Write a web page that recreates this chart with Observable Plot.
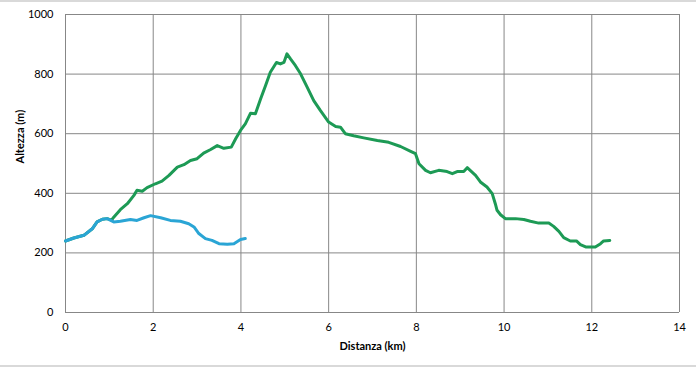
<!DOCTYPE html>
<html>
<head>
<meta charset="utf-8">
<script src="https://cdn.jsdelivr.net/npm/d3@7"></script>
<script src="https://cdn.jsdelivr.net/npm/@observablehq/plot@0.6"></script>
<style>
  html, body { margin: 0; padding: 0; background: #fff; }
  #chart { width: 696px; height: 367px; position: relative; box-sizing: border-box; }
  #frame { position: absolute; left: 0; top: 0; width: 696px; height: 367px; box-sizing: border-box;
           border-top: 2px solid #d9d9d9; border-bottom: 2px solid #d9d9d9; pointer-events: none; }
  svg { display: block; }
</style>
</head>
<body>
<div id="chart"><div id="frame"></div></div>
<script>
// X tick values (km) and Y tick values (m)
const xTicks = [0, 2, 4, 6, 8, 10, 12, 14];
const yTicks = [0, 200, 400, 600, 800, 1000];

// Blue profile: distance (km) and altitude (m)
const blueX = [0.00, 0.19, 0.42, 0.61, 0.72, 0.84, 0.95, 1.10, 1.25, 1.48, 1.63, 1.79, 1.94, 2.17, 2.39, 2.62, 2.81, 2.93, 3.04, 3.19, 3.34, 3.50, 3.69, 3.84, 3.99, 4.10];
const blueY = [240, 250, 259, 281, 304, 313, 315, 304, 306, 312, 309, 318, 325, 318, 309, 306, 298, 287, 265, 248, 242, 231, 229, 231, 245, 248];

// Green profile: distance (km) and altitude (m)
const greenX = [0.00, 0.19, 0.42, 0.61, 0.72, 0.84, 0.95, 1.05, 1.10, 1.25, 1.41, 1.56, 1.63, 1.75, 1.86, 2.05, 2.20, 2.36, 2.55, 2.70, 2.85, 3.00, 3.15, 3.31, 3.46, 3.61, 3.78, 3.88, 3.99, 4.10, 4.22, 4.33, 4.45, 4.56, 4.67, 4.81, 4.90, 4.98, 5.05, 5.13, 5.24, 5.36, 5.51, 5.66, 5.81, 6.00, 6.16, 6.27, 6.38, 6.57, 6.80, 7.11, 7.37, 7.64, 7.87, 7.98, 8.06, 8.21, 8.32, 8.51, 8.70, 8.82, 8.93, 9.08, 9.16, 9.27, 9.35, 9.46, 9.61, 9.73, 9.80, 9.84, 9.92, 10.03, 10.26, 10.45, 10.60, 10.79, 11.02, 11.13, 11.25, 11.36, 11.51, 11.65, 11.74, 11.86, 12.08, 12.20, 12.27, 12.41];
const greenY = [240, 250, 259, 281, 304, 313, 315, 310, 320, 345, 365, 393, 410, 407, 419, 432, 441, 460, 488, 496, 510, 516, 535, 547, 560, 551, 555, 583, 611, 633, 669, 667, 717, 761, 806, 839, 834, 839, 868, 851, 829, 801, 756, 711, 678, 639, 624, 622, 600, 593, 586, 577, 571, 557, 541, 533, 499, 477, 469, 477, 473, 466, 473, 473, 486, 471, 460, 438, 421, 399, 365, 343, 328, 315, 315, 312, 306, 300, 300, 289, 272, 251, 240, 240, 228, 220, 220, 231, 240, 242];

const blue = blueX.map((x, i) => ({x, y: blueY[i]}));
const green = greenX.map((x, i) => ({x, y: greenY[i]}));

const font = "Lato, 'Open Sans', sans-serif";

const chart = Plot.plot({
  width: 696,
  height: 367,
  marginLeft: 65,
  marginRight: 17,
  marginTop: 14,
  marginBottom: 55,
  style: { fontFamily: font, fontSize: "11px", color: "#000", background: "transparent", overflow: "visible" },
  x: { domain: [0, 14], ticks: xTicks, tickSize: 0, tickPadding: 11, label: null, tickFormat: d => String(d) },
  y: { domain: [0, 1000], ticks: yTicks, tickSize: 0, tickPadding: 12, label: null, tickFormat: d => String(d) },
  marks: [
    Plot.ruleX(xTicks, { stroke: "#878787", strokeWidth: 1 }),
    Plot.ruleY(yTicks, { stroke: "#878787", strokeWidth: 1 }),
    Plot.line(green, { x: "x", y: "y", stroke: "#1d9a55", strokeWidth: 3, curve: "linear" }),
    Plot.line(blue, { x: "x", y: "y", stroke: "#2aa5d5", strokeWidth: 3, curve: "linear" }),
    Plot.text(["Altezza (m)"], { frameAnchor: "left", dx: -45, rotate: -90, text: d => d, fontWeight: "bold", fontSize: 11, fill: "#000" }),
    Plot.text(["Distanza (km)"], { frameAnchor: "bottom", dy: 34, text: d => d, fontWeight: "bold", fontSize: 11, fill: "#000", lineAnchor: "middle" })
  ]
});
document.getElementById("chart").appendChild(chart);
</script>
</body>
</html>
